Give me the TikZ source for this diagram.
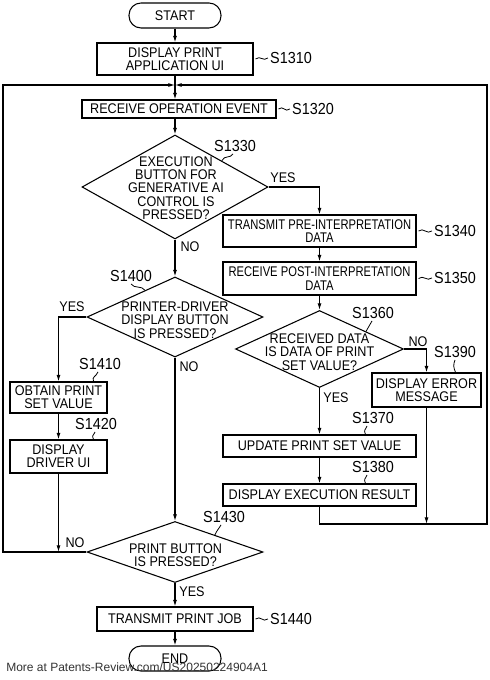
\documentclass[tikz,border=0pt]{standalone}
\usepackage{fontspec}
\setmainfont{Liberation Sans}[FakeStretch=0.9]
\newfontfamily\wmfont{Liberation Sans}
\newfontfamily\narrowf{Liberation Sans}[FakeStretch=0.8]
\usetikzlibrary{arrows.meta,shapes.geometric,calc}
\newcommand\bxf{\fontsize{10.5pt}{10pt}\selectfont}
\newcommand\lbf{\fontsize{12pt}{12pt}\selectfont}
\begin{document}
\begin{tikzpicture}[x=0.75pt,y=-0.75pt,
  box/.style={draw, line width=0.8pt, inner sep=0pt, align=center, font=\bxf},
  term/.style={box, rounded corners=9pt},
  dia/.style={draw, diamond, line width=0.8pt, inner sep=0pt},
  txt/.style={inner sep=0pt, align=center, font=\bxf},
  lab/.style={inner sep=0pt, font=\lbf},
  yn/.style={inner sep=0pt, font=\bxf},
  arr/.style={line width=0.8pt, -{Latex[length=5pt,width=3pt]}},
  sq/.style={line width=0.6pt}]
\fill[white] (0,0) rectangle (489,680);
\useasboundingbox (0,0) rectangle (489,680);

% nodes
\node[term, minimum width=69pt, minimum height=18.75pt] (start) at (175,15.5) {START};
\node[box, minimum width=117pt, minimum height=24pt] (s1310) at (175,59) {DISPLAY PRINT\\APPLICATION UI};
\node[box, minimum width=145.5pt, minimum height=13.5pt] (s1320) at (179,109) {RECEIVE OPERATION EVENT};
\node[dia, minimum width=139.5pt, minimum height=78pt] (s1330) at (175,187) {};
\node[txt] (t1330) at (176,188) {EXECUTION\\BUTTON FOR\\GENERATIVE AI\\CONTROL IS\\PRESSED?};
\node[box, minimum width=144.75pt, minimum height=24pt, font=\narrowf\bxf] (s1340) at (319.5,231) {TRANSMIT PRE-INTERPRETATION\\DATA};
\node[box, minimum width=144.75pt, minimum height=24.75pt, font=\narrowf\bxf] (s1350) at (319.5,278.5) {RECEIVE POST-INTERPRETATION\\DATA};
\node[dia, minimum width=132pt, minimum height=60pt] (s1400) at (175,317) {};
\node[txt] (t1400) at (175,320) {PRINTER-DRIVER\\DISPLAY BUTTON\\IS PRESSED?};
\node[box, minimum width=72.75pt, minimum height=23.25pt] (s1410) at (58.5,397.5) {OBTAIN PRINT\\SET VALUE};
\node[box, minimum width=72.75pt, minimum height=24.75pt] (s1420) at (58.5,456.5) {DISPLAY\\DRIVER UI};
\node[dia, minimum width=126pt, minimum height=57.75pt] (s1360) at (319.5,349) {};
\node[txt] (t1360) at (319.5,352) {RECEIVED DATA\\IS DATA OF PRINT\\SET VALUE?};
\node[box, minimum width=81.75pt, minimum height=25.5pt] (s1390) at (426.5,390) {DISPLAY ERROR\\MESSAGE};
\node[box, minimum width=144.75pt, minimum height=16.5pt] (s1370) at (319.5,446) {UPDATE PRINT SET VALUE};
\node[box, minimum width=144.75pt, minimum height=16.5pt] (s1380) at (319.5,495) {DISPLAY EXECUTION RESULT};
\node[dia, minimum width=132pt, minimum height=45.75pt] (s1430) at (175,552) {};
\node[txt] (t1430) at (175.5,555) {PRINT BUTTON\\IS PRESSED?};
\node[box, minimum width=117pt, minimum height=18pt] (s1440) at (175,619) {TRANSMIT PRINT JOB};
\node[term, minimum width=69pt, minimum height=18.75pt] (end) at (175,658.5) {END};

% step labels
\node[lab] (l1310) at (291,58) {S1310};
\node[lab] (l1320) at (313,109) {S1320};
\node[lab] (l1330) at (235,146) {S1330};
\node[lab] (l1340) at (455,231) {S1340};
\node[lab] (l1350) at (455,278) {S1350};
\node[lab] (l1400) at (131,276) {S1400};
\node[lab] (l1410) at (100,364) {S1410};
\node[lab] (l1420) at (96,424) {S1420};
\node[lab] (l1360) at (373,313) {S1360};
\node[lab] (l1390) at (455,352) {S1390};
\node[lab] (l1370) at (373,418) {S1370};
\node[lab] (l1380) at (373,467) {S1380};
\node[lab] (l1430) at (224,517) {S1430};
\node[lab] (l1440) at (291,619) {S1440};

% yes / no
\node[yn] (y1330) at (283,178) {YES};
\node[yn] (n1330) at (190,247) {NO};
\node[yn] (y1400) at (72,307) {YES};
\node[yn] (n1400) at (189,367) {NO};
\node[yn] (n1360) at (418,342) {NO};
\node[yn] (y1360) at (336,398) {YES};
\node[yn] (n1430) at (75,543) {NO};
\node[yn] (y1430) at (192,592) {YES};

% loop coordinates
\coordinate (jn) at (175,85);
\coordinate (lt) at (3,85);
\coordinate (lb) at (3,552);
\coordinate (rt) at (487,85);
\coordinate (rb) at (487,524);

% connectors
\draw[arr] (start) -- (s1310);
\draw[arr] (s1310.south) -- (s1320.north -| s1310.south);
\draw[arr] (s1320.south -| s1330.north) -- (s1330.north);
\draw[arr] (s1330.east) -| (s1340.north);
\draw[arr] (s1330.south) -- (s1400.north);
\draw[arr] (s1340) -- (s1350);
\draw[arr] (s1350.south) -- (s1360.north);
\draw[arr] (s1360.east) -| (s1390.north);
\draw[arr] (s1360.south) -- (s1370.north);
\draw[arr] (s1370) -- (s1380);
\draw[arr] (s1400.west) -| (s1410.north);
\draw[arr] (s1400.south) -- (s1430.north);
\draw[arr] (s1410) -- (s1420);
\draw[arr] (s1420.south) -- (s1420.south |- s1430.west);
\draw[arr] (s1430.west) -- (lb) -- (lt) -- (jn);
\draw[arr] (s1380.south) -- (s1380.south |- rb) -- (rb) -- (rt) -- (jn);
\draw[arr] (s1390.south) -- (s1390.south |- rb);
\draw[arr] (s1430.south) -- (s1440.north);
\draw[arr] (s1440) -- (end);

% squiggles
\draw[sq] ([xshift=1.5pt]s1310.east) .. controls +(5,-4) and +(-5,4) .. ([xshift=-1.5pt]l1310.west);
\draw[sq] ([xshift=1.5pt]s1320.east) .. controls +(5,-4) and +(-5,4) .. ([xshift=-1.5pt]l1320.west);
\draw[sq] ([xshift=1.5pt]s1340.east) .. controls +(5,-4) and +(-5,4) .. ([xshift=-1.5pt]l1340.west);
\draw[sq] ([xshift=1.5pt]s1350.east) .. controls +(5,-4) and +(-5,4) .. ([xshift=-1.5pt]l1350.west);
\draw[sq] ([xshift=1.5pt]s1440.east) .. controls +(5,-4) and +(-5,4) .. ([xshift=-1.5pt]l1440.west);
\draw[sq] ($(s1330.north)!0.5!(s1330.east)$) .. controls +(3,-6) and +(-3,5) .. ([shift={(-2,2)}]l1330.south);
\draw[sq] ($(s1400.west)!0.66!(s1400.north)$) .. controls +(-3,-5) and +(3,5) .. ([shift={(0,2)}]l1400.south);
\draw[sq] ($(s1410.north east)+(-14,0)$) .. controls +(-2,-5) and +(-2,5) .. ([shift={(-2,2)}]l1410.south);
\draw[sq] ($(s1420.north east)+(-14,0)$) .. controls +(-2,-5) and +(-2,5) .. ([shift={(-1,2)}]l1420.south);
\draw[sq] ($(s1360.north)!0.55!(s1360.east)$) .. controls +(3,-6) and +(-3,5) .. ([shift={(-1,2)}]l1360.south);
\draw[sq] ($(s1390.north east)+(-26,0)$) .. controls +(-2,-5) and +(-2,5) .. ([shift={(0,2)}]l1390.south);
\draw[sq] ($(s1370.north east)+(-51,0)$) .. controls +(-2,-5) and +(-2,5) .. ([shift={(-6,2)}]l1370.south);
\draw[sq] ($(s1380.north east)+(-51,0)$) .. controls +(-2,-5) and +(-2,5) .. ([shift={(-6,2)}]l1380.south);
\draw[sq] ($(s1430.north)!0.45!(s1430.east)$) .. controls +(3,-6) and +(-3,5) .. ([shift={(-3,2)}]l1430.south);

% watermark
\node[anchor=west, inner sep=0pt, font=\wmfont\fontsize{9pt}{9pt}\selectfont, text=black!80] (wm) at (6,667) {More at Patents-Review.com/US20250224904A1};
\end{tikzpicture}
\end{document}
